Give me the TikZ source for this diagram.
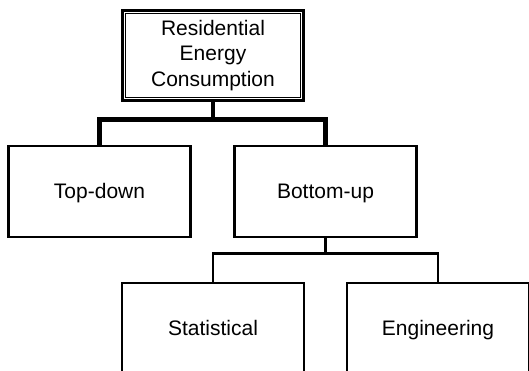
\documentclass[tikz,border=0pt]{standalone}
\usepackage{fontspec}
\setmainfont{Liberation Sans}
\begin{document}
\begin{tikzpicture}[x=1pt,y=-1pt,
  txt/.style={font=\fontsize{21}{25.5}\selectfont, align=center},
  box/.style={txt, draw, rectangle, line width=2.5pt, minimum width=182pt, minimum height=90.5pt, inner sep=0pt, outer sep=0pt, text height=15pt, text depth=0.5pt},
  topbox/.style={txt, draw, rectangle, line width=3pt, minimum width=181pt, minimum height=90pt, inner sep=0pt, outer sep=0pt},
  thickconn/.style={draw, line width=4.5pt, line join=miter},
  thinconn/.style={draw, line width=2.5pt, line join=miter}]
\useasboundingbox (0,0) rectangle (529,371);
\clip (0,0) rectangle (529,371);
\node[topbox] (rec) at (213,55.5) {Residential\\Energy\\Consumption};
\draw[line width=1pt] ([shift={(3pt,-3pt)}]rec.north west) rectangle ([shift={(-3pt,3pt)}]rec.south east);
\node[box] (td) at (99.5,191.5) {Top-down};
\node[box] (bu) at (325.5,191.5) {Bottom-up};
\node[box] (st) at (213,328) {Statistical};
\node[box] (en) at (438,328) {Engineering};
\coordinate (j1) at (213,119.5);
\coordinate (j2) at (325.5,253.5);
\draw[thickconn] (rec.south) -- (j1);
\draw[thickconn] (td.north) |- (j1) -| (bu.north);
\draw[thinconn] (bu.south) -- (j2);
\draw[thinconn] (st.north) |- (j2) -| (en.north);
\end{tikzpicture}
\end{document}
